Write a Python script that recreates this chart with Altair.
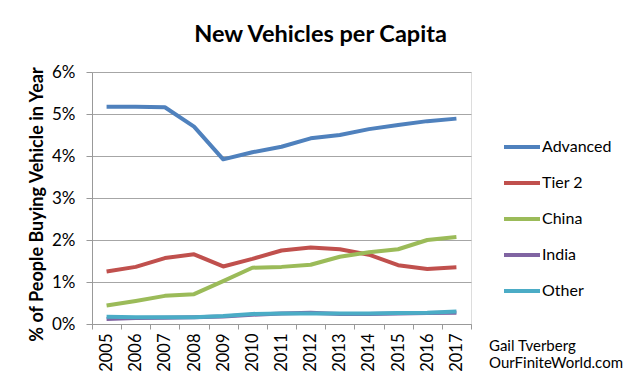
import altair as alt
import pandas as pd

years = [str(y) for y in range(2005, 2018)]
series = ["Advanced", "Tier 2", "China", "India", "Other"]
colors = ["#4F81BD", "#C0504D", "#9BBB59", "#8064A2", "#4BACC6"]

advanced = [5.17, 5.17, 5.16, 4.70, 3.92, 4.09, 4.22, 4.42, 4.50, 4.64, 4.74, 4.83, 4.89]
tier2 = [1.25, 1.36, 1.57, 1.66, 1.37, 1.55, 1.75, 1.82, 1.78, 1.65, 1.40, 1.31, 1.35]
china = [0.44, 0.55, 0.67, 0.71, 1.02, 1.34, 1.36, 1.41, 1.60, 1.71, 1.78, 2.00, 2.07]
india = [0.12, 0.14, 0.15, 0.16, 0.18, 0.22, 0.25, 0.27, 0.24, 0.24, 0.25, 0.26, 0.27]
other = [0.17, 0.16, 0.16, 0.16, 0.19, 0.24, 0.25, 0.25, 0.25, 0.25, 0.26, 0.27, 0.30]

credit = ["Gail Tverberg", "OurFiniteWorld.com"]

rows = []
for name, vals in zip(series, [advanced, tier2, china, india, other]):
    for y, v in zip(years, vals):
        rows.append({"Year": y, "Series": name, "Value": v / 100.0, "order": series.index(name)})
df = pd.DataFrame(rows)

FONT = "Lato"
W, H = 379, 252

lines = alt.Chart(df).mark_line(strokeWidth=4, strokeJoin="round").encode(
    x=alt.X("Year:N", bandPosition=0.5,
            scale=alt.Scale(type="band", paddingInner=0, paddingOuter=0),
            axis=alt.Axis(title=None, labelAngle=-90, labelAlign="right", labelBaseline="middle",
                          labelPadding=4, labelFontSize=16.5, labelFont=FONT, labelColor="#000000",
                          tickBand="extent", tickSize=5, tickColor="#999999", domainColor="#999999",
                          grid=False)),
    y=alt.Y("Value:Q", scale=alt.Scale(domain=[0, 0.06], nice=False),
            axis=alt.Axis(values=[0, 0.01, 0.02, 0.03, 0.04, 0.05, 0.06], format=".0%",
                          title="% of People Buying Vehicle in Year", titleFont=FONT,
                          titleFontSize=18, titleFontWeight="bold", titleColor="#000000",
                          titleX=-55, titleY=132, titleAlign="center", titleBaseline="middle",
                          titleAngle=270,
                          labelFontSize=17, labelFont=FONT, labelColor="#000000", labelPadding=11,
                          tickSize=6, tickColor="#999999", domainColor="#999999",
                          gridColor="#a6a6a6", gridWidth=1)),
    color=alt.Color("Series:N", scale=alt.Scale(domain=series, range=colors),
                    legend=alt.Legend(title=None, orient="none", legendX=410, legendY=55,
                                      symbolType="stroke", symbolSize=1296, symbolStrokeWidth=4,
                                      labelFontSize=16, labelFont=FONT, labelColor="#000000",
                                      labelOffset=0, rowPadding=8, padding=0)),
    order=alt.Order("order:Q"),
    detail="Series:N",
)

credit_df = pd.DataFrame({"t": credit, "i": [0, 1]})
credit_text = alt.Chart(credit_df).mark_text(align="left", baseline="middle", font=FONT,
                                             fontSize=15, color="#000000").encode(
    text="t:N",
    x=alt.value(397),
    y=alt.Y("i:Q", scale=alt.Scale(domain=[0, 1], range=[274, 291]), axis=None),
)

chart = alt.layer(lines, credit_text).resolve_scale(y="independent").properties(
    width=W, height=H,
    title=alt.TitleParams("New Vehicles per Capita", font=FONT, fontSize=23.5, fontWeight="bold",
                          color="#000000", anchor="middle", dx=39, offset=17),
    autosize=alt.AutoSizeParams(type="none"),
    padding={"left": 84, "top": 64, "right": 160, "bottom": 50},
).configure_view(stroke=None).configure(background="#ffffff")

chart.save("out.html", embed_options={"renderer": "svg", "actions": False})
